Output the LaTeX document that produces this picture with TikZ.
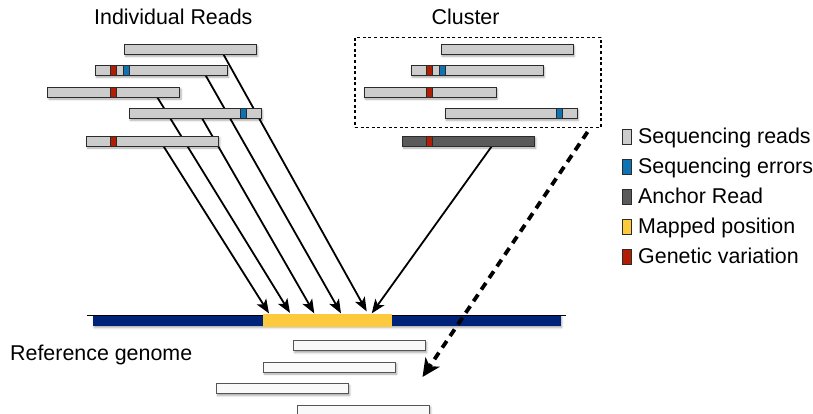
\documentclass[tikz,border=0pt]{standalone}
\usepackage{fontspec}
\setmainfont{Liberation Sans}
\usetikzlibrary{arrows.meta,shadows.blur,backgrounds}

\definecolor{readgray}{HTML}{CCCCCC}
\definecolor{edgegray}{HTML}{2B2B2B}
\definecolor{anchorgray}{HTML}{5A5A5A}
\definecolor{varred}{HTML}{B21E04}
\definecolor{errblue}{HTML}{0E72B3}
\definecolor{genomeblue}{HTML}{00237A}
\definecolor{mapyellow}{HTML}{FDC93D}
\definecolor{placedfill}{HTML}{F9F9F9}
\definecolor{placededge}{HTML}{555555}

\tikzset{
  softshadow/.style={blur shadow={shadow xshift=1.2pt, shadow yshift=-1.8pt,
      shadow blur radius=2pt, shadow opacity=35}},
  readbar/.style={draw=edgegray, fill=readgray, line width=1pt,
      minimum width=132pt, minimum height=10pt, inner sep=0pt, outer sep=0pt,
      anchor=north west, softshadow},
  anchorbar/.style={readbar, fill=anchorgray},
  placedbar/.style={draw=placededge, fill=placedfill, line width=1pt,
      minimum width=132pt, minimum height=10pt, inner sep=0pt, outer sep=0pt,
      anchor=north west, softshadow},
  varmark/.style={draw=edgegray, fill=varred, line width=0.6pt,
      minimum width=6.2pt, minimum height=10pt, inner sep=0pt, outer sep=0pt,
      anchor=north west},
  errmark/.style={varmark, fill=errblue},
  maparrow/.style={line width=1.8pt, -{Stealth[length=14pt,width=11pt,inset=3.5pt]}},
  clusterarrow/.style={line width=3.8pt, dash pattern=on 8pt off 6pt,
      -{Stealth[length=18pt,width=17pt,inset=5pt]}},
  label/.style={inner sep=0pt, anchor=base west},
  legendbox/.style={draw=edgegray, line width=0.6pt, minimum width=9pt,
      minimum height=15pt, inner sep=0pt, anchor=north west},
}

\begin{document}
\begin{tikzpicture}[x=1pt, y=-1pt, font=\fontsize{21.4}{25}\selectfont]
\useasboundingbox (0,0) rectangle (813,414);

% headings
\node[label] (hreads) at (94,25) {Individual Reads};
\node[label] (hcluster) at (431.5,25) {Cluster};
\node[label] (hgenome) at (10,360) {Reference genome};

% individual reads
\node[readbar] (r1) at (124.5,44.5) {};
\node[readbar] (r2) at (95.2,65.5) {};
\node[varmark] at (110.2,65.5) {};
\node[errmark] at (122.8,65.5) {};
\node[readbar] (r3) at (47.8,87.3) {};
\node[varmark] at (110.2,87.3) {};
\node[readbar] (r4) at (129.2,108.5) {};
\node[errmark] at (240.2,108.5) {};
\node[readbar] (r5) at (86.5,136.2) {};
\node[varmark] at (110.2,136.2) {};

% cluster of reads and its anchor read
\node[draw, line width=1.4pt, dash pattern=on 3pt off 2.6pt, minimum width=246pt,
      minimum height=90pt, inner sep=0pt, outer sep=0pt, anchor=north west]
      (cluster) at (355,37.3) {};
\node[readbar] (c1) at (441,44.5) {};
\node[readbar] (c2) at (411,65.5) {};
\node[varmark] at (426,65.5) {};
\node[errmark] at (439,65.5) {};
\node[readbar] (c3) at (364,87.3) {};
\node[varmark] at (426,87.3) {};
\node[readbar] (c4) at (445,108.5) {};
\node[errmark] at (556,108.5) {};
\node[anchorbar] (anc) at (402.5,136.2) {};
\node[varmark] at (426,136.2) {};

% reference genome with the mapped position
\node[fill=genomeblue, minimum width=467.5pt, minimum height=10.5pt, inner sep=0pt,
      outer sep=0pt, anchor=north west, softshadow] (genome) at (93,315.2) {};
\coordinate (gleft) at (86.5,315);
\coordinate (gright) at (565.8,315);
\draw[line width=0.9pt] (gleft) -- (gright);
\node[fill=mapyellow, minimum width=128.5pt, minimum height=13pt, inner sep=0pt,
      outer sep=0pt, anchor=north west] (mapped) at (263.3,314.4) {};

% reads placed below the genome
\node[placedbar] (p1) at (293.5,340.8) {};
\node[placedbar] (p2) at (263.5,362.2) {};
\node[placedbar] (p3) at (216.5,383.8) {};
\node[placedbar] (p4) at (297.5,405.2) {};

% mapping arrows, drawn behind the reads
\begin{pgfonlayer}{background}
  \draw[maparrow] ([xshift=77pt]r5.south west) -- ([xshift=5.7pt,yshift=1pt]mapped.north west);
  \draw[maparrow] ([xshift=109.5pt]r3.south west) -- ([xshift=26.7pt,yshift=1.5pt]mapped.north west);
  \draw[maparrow] ([xshift=73pt]r4.south west) -- ([xshift=51pt,yshift=1pt]mapped.north west);
  \draw[maparrow] ([xshift=110.5pt]r2.south west) -- ([xshift=77.7pt,yshift=1pt]mapped.north west);
  \draw[maparrow] ([xshift=99pt]r1.south west) -- ([xshift=103.4pt,yshift=3pt]mapped.north west);
  \draw[maparrow] ([xshift=89.3pt]anc.south west) -- ([xshift=108.4pt,yshift=1pt]mapped.north west);
\end{pgfonlayer}

% cluster placed as a whole
\coordinate (cstart) at (587.5,132);
\coordinate (cend) at (422.5,377);
\draw[clusterarrow] (cstart) -- (cend);

% legend
\node[legendbox, fill=readgray] (k1) at (622.3,129) {};
\node[legendbox, fill=errblue] (k2) at (622.3,159) {};
\node[legendbox, fill=anchorgray] (k3) at (622.3,189) {};
\node[legendbox, fill=mapyellow] (k4) at (622.3,219) {};
\node[legendbox, fill=varred] (k5) at (622.3,249) {};
\node[label] (t1) at (638,143.5) {Sequencing reads};
\node[label] (t2) at (638,173.5) {Sequencing errors};
\node[label] (t3) at (638,203.5) {Anchor Read};
\node[label] (t4) at (638,233.5) {Mapped position};
\node[label] (t5) at (638,263.5) {Genetic variation};
\end{tikzpicture}
\end{document}
